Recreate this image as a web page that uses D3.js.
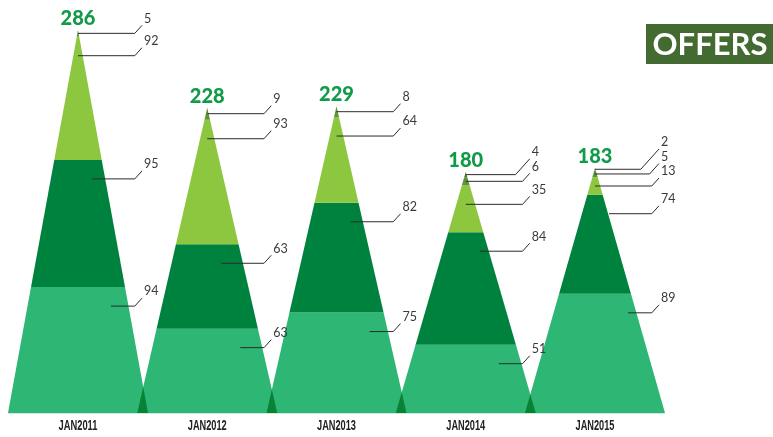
<!DOCTYPE html>
<html>
<head>
<meta charset="utf-8">
<script src="https://cdn.jsdelivr.net/npm/d3@7"></script>
<style>
  html, body { margin: 0; padding: 0; background: #fff; }
  svg { display: block; }
</style>
</head>
<body>
<svg id="chart" width="773" height="437"></svg>
<script>
// ---- data ----
const categories = ["JAN2011", "JAN2012", "JAN2013", "JAN2014", "JAN2015"];
const layer1 = [94, 63, 75, 51, 89];   // bottom
const layer2 = [95, 63, 82, 84, 74];
const layer3 = [92, 93, 64, 35, 13];
const layer4 = [5, 9, 8, 6, 5];
const layer5 = [0, 0, 0, 4, 2];       // top
const totals = [286, 228, 229, 180, 183];
const title = "OFFERS";

const layers = [layer1, layer2, layer3, layer4, layer5];
const colors = ["#2db674", "#00823f", "#8dc63f", "#5f9436", "#4a7a2b"];
const startOffsets = [33, 14, 0, 0, 0];

const svg = d3.select("#chart");
const baseY = 413;
const halfW = 70;

const x = d3.scalePoint().domain(categories).range([78, 595]);
const y = d3.scaleLinear().domain([0, 286]).range([baseY, 30]);

// base line
svg.append("line")
  .attr("x1", x(categories[0]) - halfW).attr("x2", x(categories[4]) + halfW)
  .attr("y1", baseY + 0.5).attr("y2", baseY + 0.5)
  .attr("stroke", "#cfe9d9").attr("stroke-width", 1);

const triG = svg.append("g");
const labG = svg.append("g");

categories.forEach((cat, i) => {
  const cx = x(cat);
  const total = totals[i];
  const apexY = y(total);
  const wAt = yy => halfW * (yy - apexY) / (baseY - apexY);

  // segments
  let cum = 0;
  const segs = [];
  layers.forEach((arr, li) => {
    const v = arr[i];
    if (v <= 0) return;
    const y0 = y(cum), y1 = y(cum + v);
    cum += v;
    segs.push({ v, li, y0, y1 });
  });

  const g = triG.append("g").style("mix-blend-mode", "multiply");
  segs.forEach(s => {
    const pts = [
      [cx - wAt(s.y0), s.y0], [cx + wAt(s.y0), s.y0],
      [cx + wAt(s.y1), s.y1], [cx - wAt(s.y1), s.y1]
    ];
    g.append("polygon")
      .attr("points", pts.map(p => p.join(",")).join(" "))
      .attr("fill", colors[s.li]);
  });

  // labels with leader lines
  const labelX = cx + 65;
  let prevC = Infinity;
  segs.forEach(s => {
    const h = s.y0 - s.y1;
    s.lineY = s.y1 + Math.min(19, h / 2);
    let c = s.lineY - 15;
    if (c > prevC - 14.5) c = prevC - 14.5;
    s.labelC = c;
    prevC = c;
  });
  segs.forEach(s => {
    const sx = cx + startOffsets[s.li];
    const ex2 = labelX - 1, ey2 = s.labelC + 7;
    let ex1 = ex2 - (s.lineY - ey2) * 0.9;
    if (ex1 < sx + 4) ex1 = sx + 4;
    labG.append("path")
      .attr("d", `M${sx},${s.lineY}H${ex1}L${ex2},${ey2}`)
      .attr("fill", "none").attr("stroke", "#2b2b2b").attr("stroke-width", 1);
    labG.append("text")
      .attr("x", labelX + 1).attr("y", s.labelC).attr("dy", "0.35em")
      .attr("font-family", "Lato, sans-serif").attr("font-size", 12.5)
      .attr("fill", "#3a3a3a")
      .text(s.v);
  });

  // total label
  labG.append("text")
    .attr("x", cx).attr("y", apexY - 5)
    .attr("text-anchor", "middle")
    .attr("font-family", "Lato, sans-serif").attr("font-weight", 900)
    .attr("font-size", 20).attr("fill", "#119a48")
    .text(total);

  // category label
  labG.append("text")
    .attr("x", cx).attr("y", 425).attr("dy", "0.36em")
    .attr("text-anchor", "middle")
    .attr("font-family", "'Liberation Sans Narrow', 'Liberation Sans', sans-serif")
    .attr("font-weight", 700).attr("font-size", 14)
    .attr("textLength", 39).attr("lengthAdjust", "spacingAndGlyphs")
    .attr("fill", "#222")
    .text(cat);
});

// title box
svg.append("rect").attr("x", 646).attr("y", 24).attr("width", 130).attr("height", 40)
  .attr("fill", "#436a31");
svg.append("text").attr("x", 710).attr("y", 44).attr("dy", "0.36em")
  .attr("text-anchor", "middle")
  .attr("font-family", "Lato, sans-serif").attr("font-weight", 700)
  .attr("font-size", 31).attr("fill", "#fff")
  .text(title);
</script>
</body>
</html>
